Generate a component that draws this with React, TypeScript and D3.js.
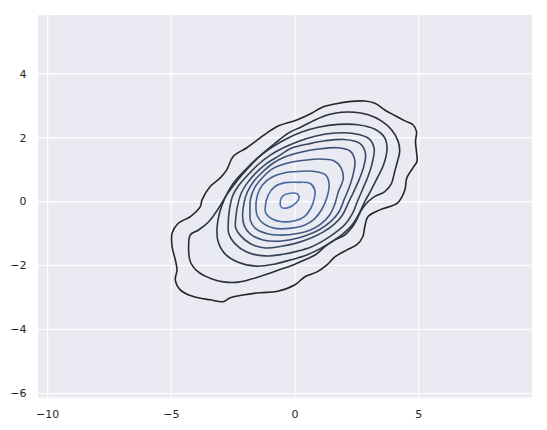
import * as d3 from "d3";

// contour levels, outermost first, traced in data coordinates
const c1: [number, number][] = [
  [-4.97, -0.99], [-4.72, -0.68], [-4.23, -0.47], [-3.83, -0.16], [-3.76, 0.05],
  [-3.43, 0.47], [-3.02, 0.74], [-2.76, 0.99], [-2.5, 1.41], [-1.95, 1.68],
  [-1.41, 1.99], [-1.14, 2.14], [-0.74, 2.34], [0.07, 2.55], [0.67, 2.76],
  [1.08, 2.94], [1.61, 3.05], [2.28, 3.13], [2.82, 3.14], [3.23, 3.07],
  [3.63, 2.86], [4.03, 2.69], [4.44, 2.52], [4.77, 2.4], [4.91, 2.19],
  [4.87, 1.88], [4.91, 1.56], [4.93, 1.25], [4.8, 1.09], [4.52, 0.74],
  [4.44, 0.36], [4.15, -0.04], [3.43, -0.26], [2.94, -0.48], [2.82, -0.79],
  [2.74, -1.1], [2.5, -1.35], [2.1, -1.51], [1.61, -1.73], [1.29, -1.98],
  [0.89, -2.2], [0.4, -2.35], [0.0, -2.6], [-0.74, -2.81], [-1.41, -2.85],
  [-2.1, -2.92], [-2.62, -3.01], [-2.9, -3.13], [-3.43, -3.07], [-4.11, -2.97],
  [-4.64, -2.76], [-4.84, -2.45], [-4.77, -2.14], [-4.84, -1.82], [-4.97, -1.41],
];
const c2: [number, number][] = [
  [-4.3, -1.35], [-4.23, -1.04], [-3.9, -0.89], [-3.49, -0.63], [-3.09, -0.21],
  [-2.76, 0.21], [-2.42, 0.57], [-2.15, 0.83], [-1.75, 1.17], [-1.34, 1.48],
  [-0.81, 1.82], [-0.27, 2.14], [0.27, 2.34], [0.81, 2.55], [1.34, 2.71],
  [1.88, 2.79], [2.42, 2.79], [2.96, 2.71], [3.49, 2.52], [3.9, 2.24],
  [4.17, 1.88], [4.23, 1.56], [4.14, 1.25], [4.03, 0.94], [3.9, 0.57],
  [3.63, 0.31], [3.23, 0.16], [2.96, 0.0], [2.69, -0.26], [2.49, -0.57],
  [2.28, -0.83], [2.02, -1.04], [1.61, -1.2], [1.21, -1.41], [0.81, -1.67],
  [0.4, -1.82], [-0.13, -2.0], [-0.67, -2.14], [-1.21, -2.29], [-1.75, -2.42],
  [-2.28, -2.52], [-2.82, -2.52], [-3.36, -2.42], [-3.9, -2.21], [-4.23, -1.88],
];
const c3: [number, number][] = [
  [-3.15, -0.8], [-3.05, -0.35], [-2.85, 0.08], [-2.6, 0.45], [-2.28, 0.77],
  [-1.9, 1.08], [-1.45, 1.4], [-0.92, 1.7], [-0.34, 1.96], [0.27, 2.17],
  [0.94, 2.32], [1.75, 2.41], [2.55, 2.4], [3.23, 2.26], [3.62, 2.0],
  [3.72, 1.65], [3.58, 1.15], [3.32, 0.73], [3.05, 0.32], [2.82, 0.0],
  [2.6, -0.36], [2.32, -0.72], [1.95, -1.0], [1.5, -1.25], [1.0, -1.48],
  [0.45, -1.68], [-0.15, -1.82], [-0.8, -1.95], [-1.55, -2.02], [-2.3, -1.9],
  [-2.85, -1.62], [-3.12, -1.22],
];
const c4: [number, number][] = [
  [-2.7, -0.7], [-2.65, -0.25], [-2.52, 0.18], [-2.28, 0.5], [-1.92, 0.82],
  [-1.5, 1.15], [-1.0, 1.45], [-0.47, 1.68], [0.13, 1.88], [0.81, 2.04],
  [1.61, 2.14], [2.42, 2.12], [3.0, 1.96], [3.2, 1.65], [3.12, 1.2],
  [2.95, 0.78], [2.72, 0.36], [2.52, 0.0], [2.32, -0.38], [2.02, -0.72],
  [1.62, -0.98], [1.15, -1.22], [0.65, -1.42], [0.1, -1.55], [-0.5, -1.65],
  [-1.21, -1.7], [-1.95, -1.58], [-2.45, -1.3], [-2.68, -1.0],
];
const c5: [number, number][] = [
  [-2.4, -0.55], [-2.32, -0.12], [-2.18, 0.25], [-1.95, 0.56], [-1.6, 0.88],
  [-1.18, 1.17], [-0.67, 1.42], [-0.13, 1.67], [0.54, 1.8], [1.21, 1.9],
  [2.0, 1.94], [2.62, 1.82], [2.85, 1.5], [2.78, 1.1], [2.6, 0.7],
  [2.38, 0.32], [2.15, -0.05], [1.92, -0.42], [1.6, -0.7], [1.15, -0.95],
  [0.62, -1.15], [0.05, -1.3], [-0.55, -1.4], [-1.21, -1.45], [-1.8, -1.32],
  [-2.22, -1.05], [-2.4, -0.82],
];
const c6: [number, number][] = [
  [-2.12, -0.45], [-2.05, 0.0], [-1.92, 0.31], [-1.68, 0.62], [-1.3, 0.93],
  [-0.92, 1.18], [-0.4, 1.4], [0.27, 1.55], [0.94, 1.64], [1.72, 1.68],
  [2.22, 1.58], [2.42, 1.28], [2.35, 0.85], [2.18, 0.42], [1.98, 0.05],
  [1.78, -0.32], [1.45, -0.62], [0.98, -0.88], [0.45, -1.06], [-0.05, -1.17],
  [-0.67, -1.24], [-1.3, -1.2], [-1.8, -1.02], [-2.05, -0.76],
];
const c7: [number, number][] = [
  [-1.82, -0.35], [-1.8, 0.08], [-1.62, 0.45], [-1.3, 0.76], [-0.92, 1.02],
  [-0.4, 1.18], [0.27, 1.28], [0.94, 1.33], [1.55, 1.28], [1.85, 1.07],
  [1.95, 0.72], [1.75, 0.3], [1.6, -0.1], [1.4, -0.42], [1.05, -0.7],
  [0.6, -0.9], [0.1, -1.0], [-0.54, -1.05], [-1.15, -1.0], [-1.6, -0.84],
  [-1.8, -0.6],
];
const c8: [number, number][] = [
  [-1.58, -0.22], [-1.52, 0.2], [-1.32, 0.52], [-0.94, 0.76], [-0.4, 0.9],
  [0.13, 0.94], [0.81, 0.94], [1.25, 0.82], [1.38, 0.52], [1.28, 0.1],
  [1.08, -0.25], [0.78, -0.55], [0.38, -0.74], [-0.13, -0.83], [-0.81, -0.84],
  [-1.26, -0.7], [-1.52, -0.46],
];
const c9: [number, number][] = [
  [-1.21, -0.21], [-1.08, 0.21], [-0.81, 0.47], [-0.4, 0.59], [0.13, 0.6],
  [0.6, 0.57], [0.8, 0.36], [0.78, 0.1], [0.64, -0.21], [0.38, -0.47],
  [0.0, -0.6], [-0.54, -0.63], [-0.94, -0.54], [-1.18, -0.36],
];
const c10: [number, number][] = [
  [-0.6, -0.05], [-0.51, 0.16], [-0.2, 0.26], [0.11, 0.23], [0.16, 0.1],
  [0.03, -0.05], [-0.27, -0.19], [-0.54, -0.19],
];

const contours = [c1, c2, c3, c4, c5, c6, c7, c8, c9, c10];

const xTicks = [-10, -5, 0, 5];
const yTicks = [-6, -4, -2, 0, 2, 4];

const W = 547;
const H = 430;
const plot = { left: 38, right: 532, top: 15, bottom: 397.5 };

const fmt = (v: number) => (v < 0 ? "\u2212" + Math.abs(v) : String(v));

export default function App() {
  const x = d3.scaleLinear().domain([-10.39, 9.58]).range([plot.left, plot.right]);
  const y = d3.scaleLinear().domain([-6.125, 5.83]).range([plot.bottom, plot.top]);

  const color = d3.interpolateRgb("#262626", "#4c72b0");

  const line = d3
    .line<[number, number]>()
    .x((d) => x(d[0]))
    .y((d) => y(d[1]))
    .curve(d3.curveCatmullRomClosed.alpha(0.5));

  return (
    <svg
      width={W}
      height={H}
      style={{ position: "absolute", left: 0, top: 0, background: "#fff" }}
      fontFamily="DejaVu Sans"
    >
      <rect
        x={plot.left}
        y={plot.top}
        width={plot.right - plot.left}
        height={plot.bottom - plot.top}
        fill="#eaeaf2"
      />
      {xTicks.map((t) => (
        <line
          key={"gx" + t}
          x1={x(t)}
          x2={x(t)}
          y1={plot.top}
          y2={plot.bottom}
          stroke="#fff"
          strokeWidth={1.2}
        />
      ))}
      {yTicks.map((t) => (
        <line
          key={"gy" + t}
          x1={plot.left}
          x2={plot.right}
          y1={y(t)}
          y2={y(t)}
          stroke="#fff"
          strokeWidth={1.2}
        />
      ))}
      {contours.map((c, i) => (
        <path
          key={"c" + i}
          d={line(c) ?? ""}
          fill="none"
          stroke={color(i / (contours.length - 1))}
          strokeWidth={1.6}
        />
      ))}
      {xTicks.map((t) => (
        <text
          key={"tx" + t}
          x={x(t)}
          y={plot.bottom + 20}
          textAnchor="middle"
          fontSize={11}
          fill="#262626"
        >
          {fmt(t)}
        </text>
      ))}
      {yTicks.map((t) => (
        <text
          key={"ty" + t}
          x={plot.left - 11.5}
          y={y(t)}
          dy="0.36em"
          textAnchor="end"
          fontSize={11}
          fill="#262626"
        >
          {fmt(t)}
        </text>
      ))}
    </svg>
  );
}
